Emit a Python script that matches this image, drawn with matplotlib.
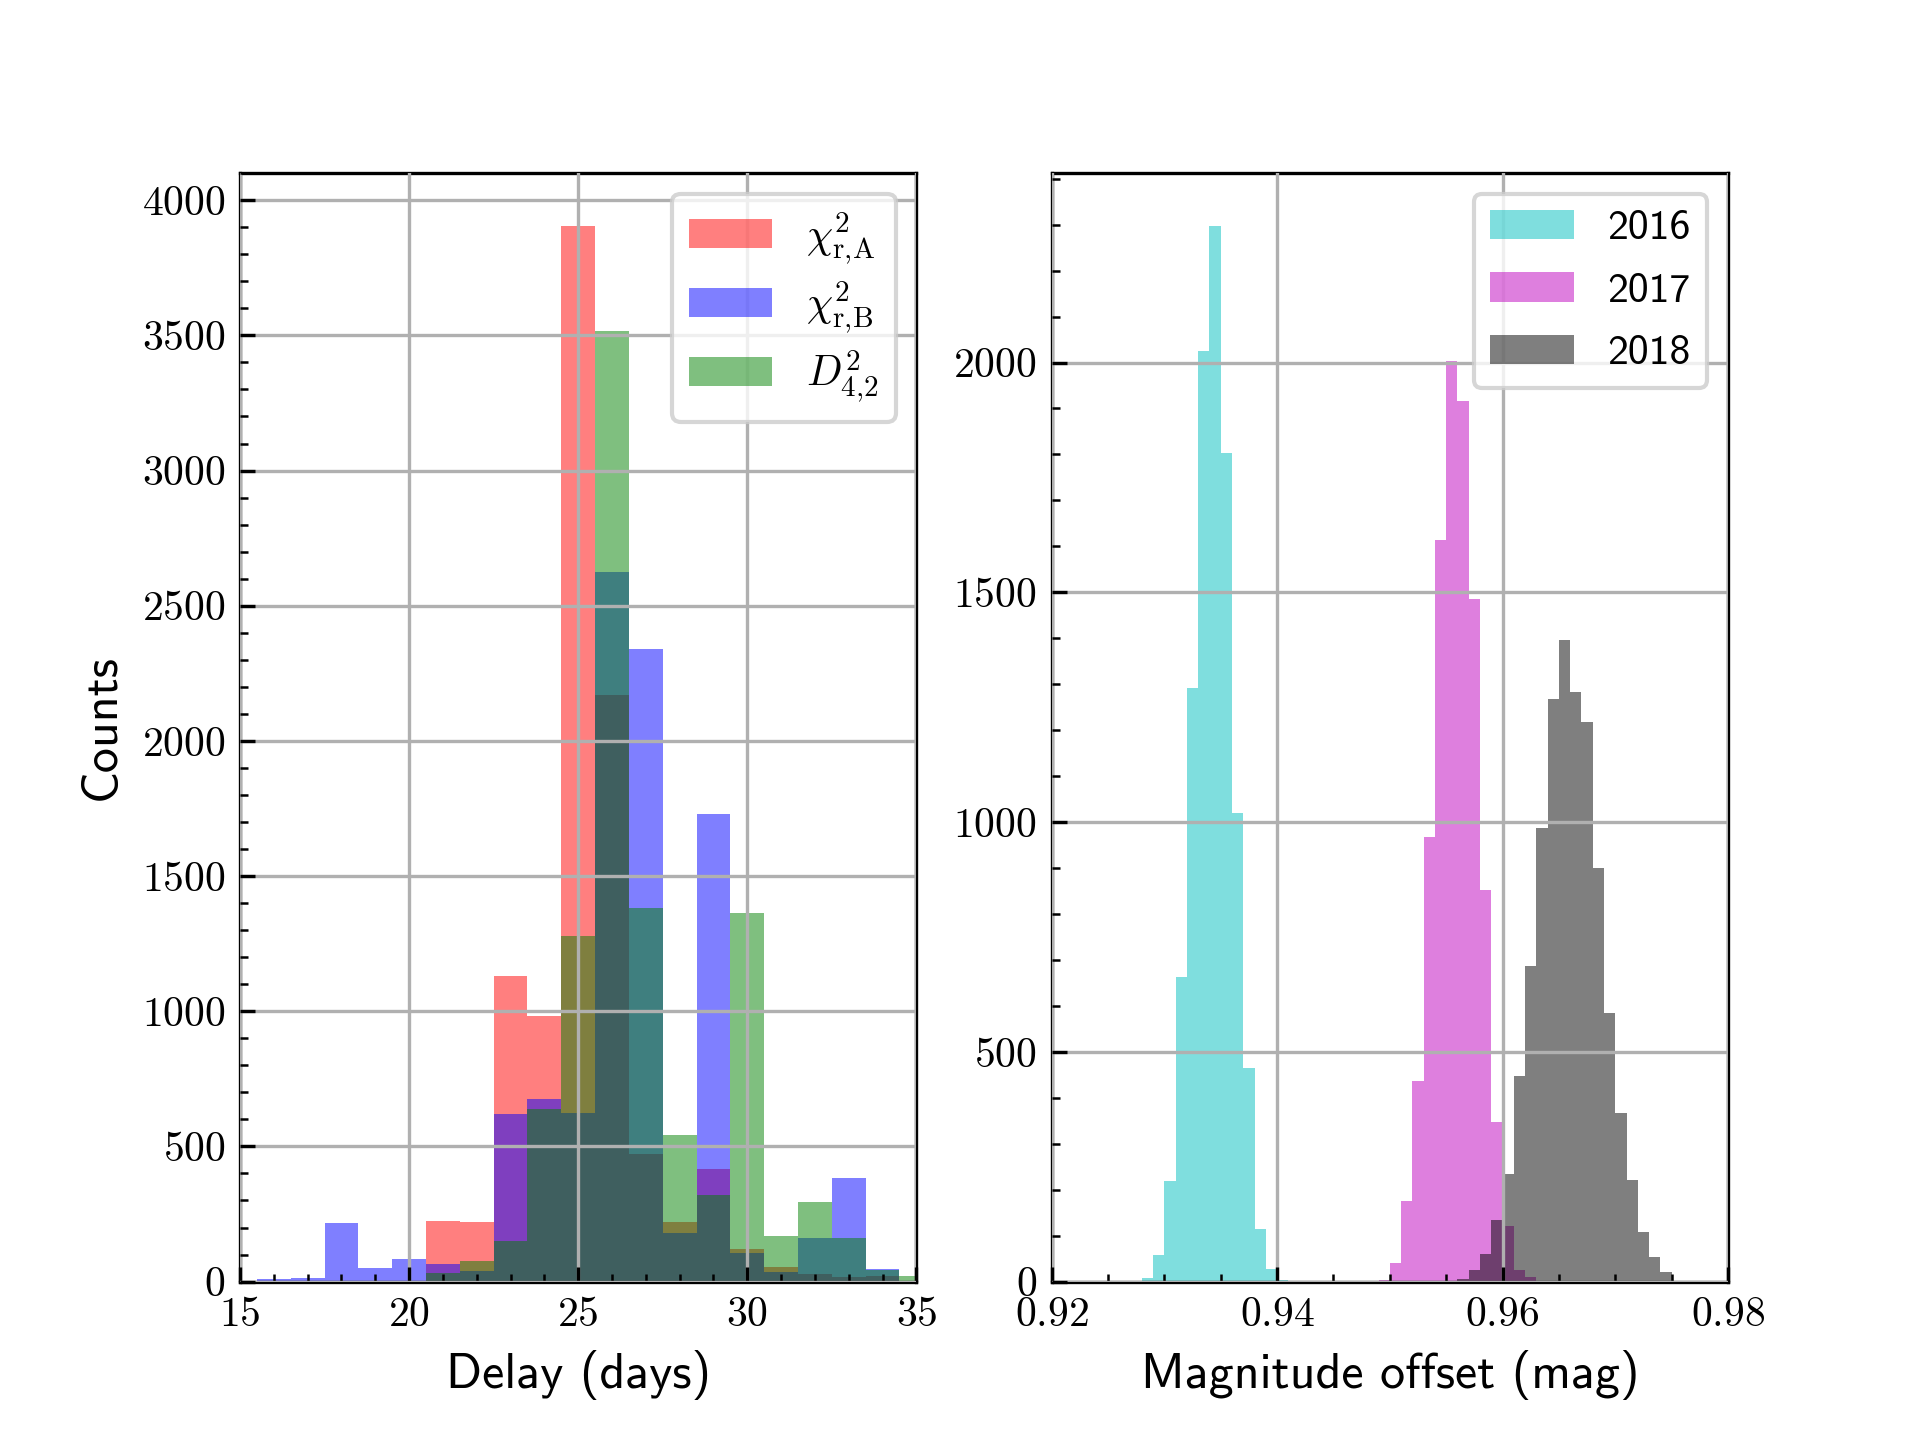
import numpy as np
import matplotlib
matplotlib.use('Agg')
import matplotlib.pyplot as plt
from matplotlib.ticker import MultipleLocator

# delay histograms, 1 day bins centred on whole days
delay_centres = np.arange(16, 36)
chi2_a = [0, 0, 0, 0, 0, 225, 219, 1129, 984, 3906, 2171, 473, 222, 418, 120, 54, 27, 17, 20, 0]
chi2_b = [11, 15, 217, 50, 84, 65, 40, 621, 674, 624, 2626, 2341, 180, 1729, 105, 36, 162, 385, 45, 0]
d42 = [0, 0, 0, 0, 0, 30, 76, 150, 640, 1280, 3517, 1383, 541, 320, 1365, 168, 294, 162, 44, 21]
delay_labels = [r'$\chi^2_{\rm r,\!A}$', r'$\chi^2_{\rm r,\!B}$', r'$D^2_{4,\!2}$']

# magnitude offset histograms, 0.001 mag bins (first bin left edge given)
start_2016 = 0.928
mag_2016 = [7, 57, 219, 663, 1292, 2026, 2298, 1803, 1020, 464, 114, 28, 4]
start_2017 = 0.949
mag_2017 = [4, 40, 176, 437, 968, 1613, 2003, 1917, 1485, 853, 347, 122, 26, 11]
start_2018 = 0.956
mag_2018 = [5, 25, 60, 133, 235, 448, 687, 988, 1268, 1396, 1283, 1217, 899, 585, 367, 222, 109, 54, 20]
years = ['2016', '2017', '2018']

plt.rcParams['font.family'] = 'serif'
plt.rcParams['font.serif'] = ['cmr10']
plt.rcParams['mathtext.fontset'] = 'cm'
plt.rcParams['axes.formatter.use_mathtext'] = True
plt.rcParams['xtick.direction'] = 'in'
plt.rcParams['ytick.direction'] = 'in'

fig, (ax1, ax2) = plt.subplots(1, 2, figsize=(6.4, 4.8), dpi=300)

edges = np.append(delay_centres - 0.5, delay_centres[-1] + 0.5)
for counts, col, lab in zip([chi2_a, chi2_b, d42], ['r', 'b', 'g'], delay_labels):
    ax1.hist(delay_centres, bins=edges, weights=counts, color=col, alpha=0.5, label=lab)
ax1.set_xlim(15, 35)
ax1.xaxis.set_major_locator(MultipleLocator(5))
ax1.xaxis.set_minor_locator(MultipleLocator(1))
ax1.yaxis.set_major_locator(MultipleLocator(500))
ax1.yaxis.set_minor_locator(MultipleLocator(100))
ax1.set_xlabel('Delay (days)', fontfamily='cmss10', fontsize=12)
ax1.set_ylabel('Counts', fontfamily='cmss10', fontsize=12)
ax1.legend(loc='upper right', fontsize=10, labelspacing=0.31)

for start, counts, col, lab in zip([start_2016, start_2017, start_2018],
                                   [mag_2016, mag_2017, mag_2018], ['c', 'm', 'k'], years):
    n = len(counts)
    bins = start + 0.001 * np.arange(n + 1)
    centres = start + 0.001 * (np.arange(n) + 0.5)
    ax2.hist(centres, bins=bins, weights=counts, color=col, alpha=0.5, label=lab)
ax2.set_xlim(0.92, 0.98)
ax2.xaxis.set_major_locator(MultipleLocator(0.02))
ax2.xaxis.set_minor_locator(MultipleLocator(0.005))
ax2.yaxis.set_major_locator(MultipleLocator(500))
ax2.yaxis.set_minor_locator(MultipleLocator(100))
ax2.set_xlabel('Magnitude offset (mag)', fontfamily='cmss10', fontsize=12)
ax2.legend(loc='upper right', prop={'family': 'cmss10', 'size': 10}, labelspacing=0.6)

for ax in (ax1, ax2):
    ax.grid(True)
    ax.set_axisbelow(False)

fig.savefig('out.png', dpi=300)
